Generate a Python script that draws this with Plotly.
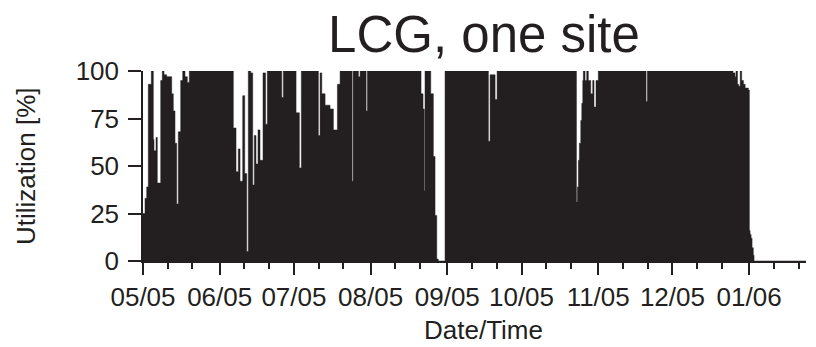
import plotly.graph_objects as go
from datetime import datetime, timedelta

# ---- data (days since 2005-05-01, utilization %) ----
start_date = datetime(2005, 5, 1)
day_offset = [
    0, 0.81, 1.50, 2.14, 3.36, 4.17, 4.45, 5.26, 5.78, 7.16, 7.80, 8.49, 9.58,
    11.60, 12.25, 12.94, 13.62, 14.27, 15.24, 16.05, 16.98, 17.91, 18.72,
    36.51, 37.60, 38.53, 39.22, 40.31, 41.12, 41.93, 42.57, 43.54, 44.35,
    45.00, 45.68, 46.49, 47.30, 48.52, 49.53, 50.26, 56.08, 56.73, 61.87,
    63.20, 64.01, 70.89, 71.58, 72.27, 73.60, 75.62, 76.96, 78.58, 79.67,
    84.52, 84.93, 87.07, 87.76, 90.19, 90.71, 112.39, 113.20, 113.72, 114.00,
    116.31, 117.36, 118.05, 118.74, 119.38, 122.09, 139.61, 140.30, 142.32,
    143.13, 175.20, 175.60, 176.00, 176.40, 176.96, 177.37, 177.77, 178.00,
    178.68, 179.37, 180.00, 180.98, 181.79, 182.31, 183.12, 184.05, 203.35,
    203.88, 238.50, 239.30, 239.70, 240.30, 240.80, 241.40, 242.00, 242.70,
    243.40, 244.70, 245.10, 245.40, 245.80, 246.20, 246.70, 247.00, 268.0,
]
utilization = [
    25, 33, 39, 93, 100, 64, 58, 65, 41, 95, 100, 98, 97,
    88, 79, 62, 30, 68, 95, 100, 97, 94, 100,
    70, 47, 59, 42, 87, 46, 5, 100, 99, 40,
    66, 51, 69, 53, 99, 72, 100, 86, 100, 78,
    49, 100, 66, 99, 88, 82, 80, 69, 93, 100,
    42, 100, 97, 100, 79, 100, 88, 80, 37, 100,
    88, 55, 24, 1, 0, 100, 63, 98, 85,
    100, 31, 39, 53, 62, 74, 83, 95, 100,
    95, 100, 95, 88, 95, 81, 95, 100, 84,
    100, 99, 97, 100, 93, 92, 100, 95, 93,
    91, 90, 16, 14, 12, 7, 3, 0, 0,
]

month_ticks = ["2005-05-01", "2005-06-01", "2005-07-01", "2005-08-01", "2005-09-01",
               "2005-10-01", "2005-11-01", "2005-12-01", "2006-01-01"]
month_labels = ["05/05", "06/05", "07/05", "08/05", "09/05",
                "10/05", "11/05", "12/05", "01/06"]
minor_ticks = ["2005-05-11", "2005-05-21", "2005-06-11", "2005-06-21",
               "2005-07-11", "2005-07-21", "2005-08-11", "2005-08-21",
               "2005-09-11", "2005-09-21", "2005-10-11", "2005-10-21",
               "2005-11-11", "2005-11-21", "2005-12-11", "2005-12-21",
               "2006-01-11", "2006-01-21"]
y_ticks = [0, 25, 50, 75, 100]

dates = [start_date + timedelta(days=d) for d in day_offset]

INK = "#231f20"
FONT = "Liberation Sans, Arial, sans-serif"

fig = go.Figure()
fig.add_trace(go.Scatter(
    x=dates, y=utilization, mode="lines",
    line=dict(shape="hv", width=0.5, color=INK),
    fill="tozeroy", fillcolor=INK, hoverinfo="skip", showlegend=False,
))

fig.update_layout(
    width=816, height=347,
    margin=dict(l=143, r=10, t=71, b=86),
    paper_bgcolor="white", plot_bgcolor="white",
    font=dict(family=FONT, color=INK),
    title=dict(text="LCG, one site", x=484 / 816, xref="container", xanchor="center",
               y=1 - 34 / 347, yref="container", yanchor="middle",
               font=dict(size=51, family=FONT, color=INK)),
    xaxis=dict(
        type="date", range=["2005-05-01", "2006-01-24"],
        tickmode="array", tickvals=month_ticks, ticktext=month_labels,
        ticks="outside", ticklen=12, tickwidth=1.5, tickcolor=INK,
        showline=True, linecolor=INK, linewidth=1.5,
        showgrid=False, zeroline=False,
        tickfont=dict(size=26, family=FONT, color=INK),
        minor=dict(tickmode="array", tickvals=minor_ticks, ticks="outside",
                   ticklen=6, tickwidth=1.5, tickcolor=INK, showgrid=False),
    ),
    yaxis=dict(
        range=[0, 100], tickmode="array", tickvals=y_ticks,
        ticks="outside", ticklen=13, tickwidth=1.5, tickcolor=INK,
        showline=True, linecolor=INK, linewidth=1.5,
        showgrid=False, zeroline=False, ticklabelstandoff=4,
        tickfont=dict(size=26, family=FONT, color=INK),
    ),
    annotations=[
        dict(text="Date/Time", xref="paper", yref="paper",
             x=(484 - 143) / 663, y=0, xanchor="center", yanchor="middle",
             yshift=-69, showarrow=False, font=dict(size=26, family=FONT, color=INK)),
        dict(text="Utilization [%]", xref="paper", yref="paper",
             x=(26 - 143) / 663, y=0.5, xanchor="center", yanchor="middle",
             textangle=-90, showarrow=False, font=dict(size=26, family=FONT, color=INK)),
    ],
)

fig.write_html("out.html", config={"displayModeBar": False},
               post_script="document.body.style.margin='0';")
